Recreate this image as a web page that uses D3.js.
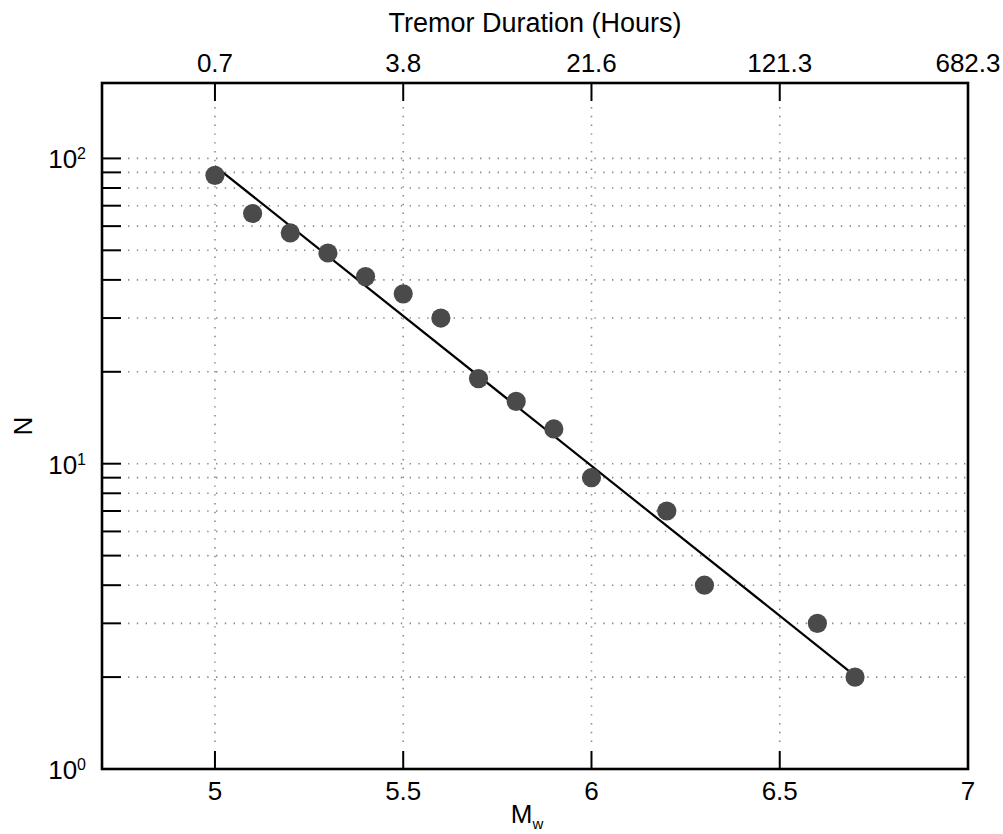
<!DOCTYPE html>
<html>
<head>
<meta charset="utf-8">
<script src="https://cdn.jsdelivr.net/npm/d3@7"></script>
<style>
  html, body { margin: 0; padding: 0; background: #fff; }
  svg { display: block; }
  text { font-family: "Liberation Sans", Arial, Helvetica, sans-serif; fill: #000; }
</style>
</head>
<body>
<svg id="chart" width="1003" height="834"></svg>
<script>
// Magnitude-frequency data: cumulative number of tremor events N at or above magnitude Mw
const magnitudes = [5.0, 5.1, 5.2, 5.3, 5.4, 5.5, 5.6, 5.7, 5.8, 5.9, 6.0, 6.2, 6.3, 6.6, 6.7];
const counts     = [88, 66, 57, 49, 41, 36, 30, 19, 16, 13, 9, 7, 4, 3, 2];

// Least-squares fit line endpoints (log-linear)
const fitM = [5.0, 6.7];
const fitN = [94.4, 2.02];

// Bottom axis ticks (Mw) and matching tremor durations on the top axis
const mwTicks = [5, 5.5, 6, 6.5, 7];
const durationLabels = ["0.7", "3.8", "21.6", "121.3", "682.3"];

// Decade labels and minor grid values on the log N axis
const decades = [1, 10, 100];
const decadeExponents = ["0", "1", "2"];
const logGridValues = [2, 3, 4, 5, 6, 7, 8, 9, 10, 20, 30, 40, 50, 60, 70, 80, 90, 100];

const svg = d3.select("#chart");
const W = 1003, H = 834;
const margin = { left: 102, right: 1003 - 968, top: 83, bottom: 834 - 769 };
const x0 = margin.left, x1 = W - margin.right, y0 = margin.top, y1 = H - margin.bottom;

svg.append("rect").attr("width", W).attr("height", H).attr("fill", "#fff");

const x = d3.scaleLinear().domain([4.7, 7]).range([x0, x1]);
const y = d3.scaleLog().domain([1, Math.pow(10, 2.247)]).range([y1, y0]);

const FONT = 26;
const TICK = 18;

// Dotted grid
const grid = svg.append("g").attr("stroke", "#8a8a8a").attr("stroke-width", 1.6)
  .attr("stroke-dasharray", "1.4,7.4").attr("fill", "none");
grid.selectAll("line.h").data(logGridValues).join("line")
  .attr("class", "h")
  .attr("x1", x0 + TICK + 8).attr("x2", x1)
  .attr("y1", d => y(d)).attr("y2", d => y(d));
grid.selectAll("line.v").data(mwTicks.filter(d => d < 7)).join("line")
  .attr("class", "v")
  .attr("x1", d => x(d)).attr("x2", d => x(d))
  .attr("y1", y0 + TICK + 6).attr("y2", y1 - TICK - 6);

// Fit line
svg.append("line")
  .attr("x1", x(fitM[0])).attr("y1", y(fitN[0]))
  .attr("x2", x(fitM[1])).attr("y2", y(fitN[1]))
  .attr("stroke", "#000").attr("stroke-width", 2.2);

// Data points
svg.append("g").selectAll("circle").data(magnitudes).join("circle")
  .attr("cx", d => x(d))
  .attr("cy", (d, i) => y(counts[i]))
  .attr("r", 9.6)
  .attr("fill", "#4a4a4a");

// Axes ticks (inward)
const ticks = svg.append("g").attr("stroke", "#000").attr("stroke-width", 2);
ticks.selectAll("line.b").data(mwTicks.filter(d => d < 7)).join("line")
  .attr("class", "b")
  .attr("x1", d => x(d)).attr("x2", d => x(d))
  .attr("y1", y1).attr("y2", y1 - TICK);
ticks.selectAll("line.t").data(mwTicks.filter(d => d < 7)).join("line")
  .attr("class", "t")
  .attr("x1", d => x(d)).attr("x2", d => x(d))
  .attr("y1", y0).attr("y2", y0 + TICK);
ticks.selectAll("line.l").data(logGridValues).join("line")
  .attr("class", "l")
  .attr("x1", x0).attr("x2", x0 + TICK + 1)
  .attr("y1", d => y(d)).attr("y2", d => y(d));

// Frame
svg.append("rect")
  .attr("x", x0).attr("y", y0).attr("width", x1 - x0).attr("height", y1 - y0)
  .attr("fill", "none").attr("stroke", "#000").attr("stroke-width", 2.6);

// Bottom tick labels
svg.append("g").selectAll("text").data(mwTicks).join("text")
  .attr("x", d => x(d)).attr("y", y1 + 31)
  .attr("text-anchor", "middle").attr("font-size", FONT)
  .text(d => d);

// Top tick labels (duration)
svg.append("g").selectAll("text").data(mwTicks).join("text")
  .attr("x", d => x(d)).attr("y", y0 - 11)
  .attr("text-anchor", "middle").attr("font-size", FONT)
  .text((d, i) => durationLabels[i]);

// Left decade labels with superscript exponents
const dl = svg.append("g").selectAll("text").data(decades).join("text")
  .attr("x", 86).attr("y", d => y(d) + 10)
  .attr("text-anchor", "end").attr("font-size", FONT);
dl.append("tspan").text("10");
dl.append("tspan").attr("font-size", 16).attr("dy", -9).text((d, i) => decadeExponents[i]);

// Axis titles
svg.append("text")
  .attr("x", (x0 + x1) / 2).attr("y", 32)
  .attr("text-anchor", "middle").attr("font-size", 27)
  .text("Tremor Duration (Hours)");

const mw = svg.append("text")
  .attr("x", (x0 + x1) / 2 - 8).attr("y", 823)
  .attr("text-anchor", "middle").attr("font-size", FONT);
mw.append("tspan").text("M");
mw.append("tspan").attr("font-size", 15).attr("dy", 6).text("w");

svg.append("text")
  .attr("transform", `translate(32, ${(y0 + y1) / 2}) rotate(-90)`)
  .attr("text-anchor", "middle").attr("font-size", FONT)
  .text("N");
</script>
</body>
</html>
